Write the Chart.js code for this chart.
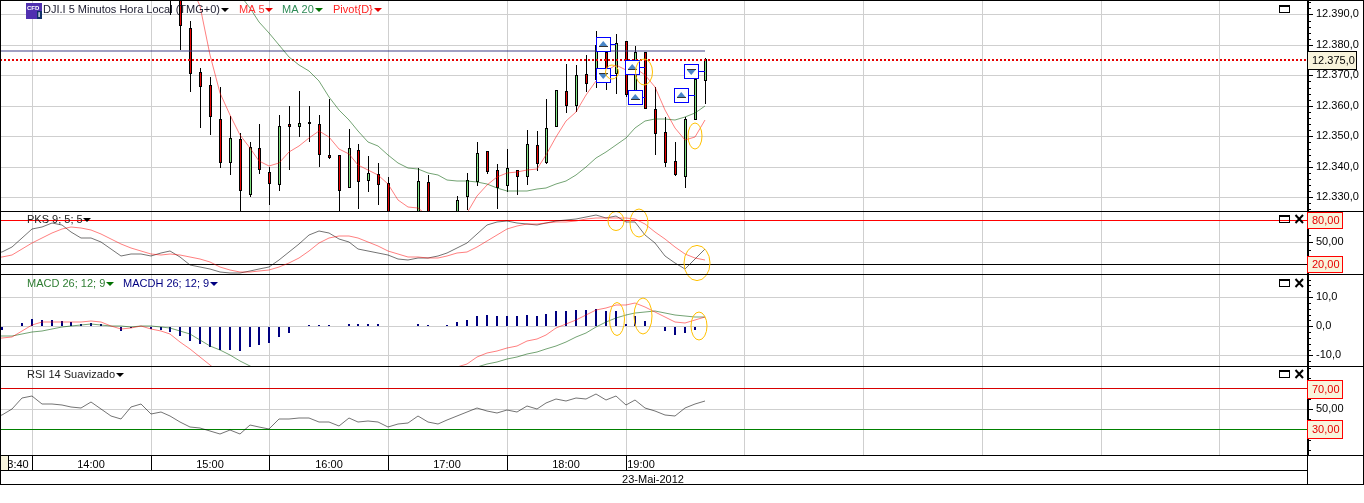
<!DOCTYPE html>
<html>
<head>
<meta charset="utf-8">
<title>DJI.I 5 Minutos</title>
<style>
  html, body { margin: 0; padding: 0; background: #fff; overflow: hidden; }
  canvas { display: block; }
</style>
<script src="https://cdn.jsdelivr.net/npm/chart.js@4/dist/chart.umd.min.js"></script>
</head>
<body>
<canvas id="chart" width="1364" height="503"></canvas>
<script>
// slot = number of 5 minute bars since 14:00
const candleFirstSlot = 14;
const candleOpen = [12398,12395,12385.5,12371,12366.8,12355.6,12341.2,12349.1,12330.9,12346.1,12338.3,12333.9,12354,12353.2,12353.9,12354,12343.9,12343.8,12333.2,12345.5,12335.2,12337.6,12334.6,12321,12316,12318,12335,12318,12314,12320,12330,12334.9,12345.1,12338.8,12333.6,12338.8,12336.8,12347.1,12341.2,12353,12364.8,12359.8,12370.4,12368.5,12377.8,12370.5,12381.3,12363,12377.6,12358.9,12351.4,12341.9,12336.8,12355.2,12368];
const candleHigh = [12405,12400,12387.9,12372.3,12369.4,12366.1,12356.8,12351,12348.3,12354.1,12339.8,12357.1,12360,12364.9,12360,12357.1,12362.3,12343.8,12352.5,12347.5,12343.6,12341.2,12336.6,12323,12322,12339.6,12337.4,12321,12324,12330.3,12337.9,12348.1,12345.1,12340.9,12345.9,12339,12352.1,12351.8,12362.3,12365.1,12373.8,12373.4,12376.7,12384.6,12382,12383.6,12381.4,12379.7,12377.7,12366.3,12356.3,12348.1,12356.3,12368.9,12375.6];
const candleLow = [12389.8,12378.4,12364.4,12352.6,12350.3,12339.6,12337.2,12322,12330,12337.8,12327.5,12331.9,12338.8,12349.9,12348.1,12340.1,12342.6,12322,12333.2,12326.2,12331.6,12327.5,12318,12314,12312,12316,12316,12312,12312,12318,12325.9,12333.6,12337.8,12326.3,12331.7,12330.8,12333.9,12338.5,12341,12353,12357.8,12358.1,12364.4,12366,12365.2,12363.8,12363,12362,12359.1,12344,12340.1,12337,12333.2,12355.2,12360.7];
const candleClose = [12396,12386.3,12370.4,12366.3,12356.2,12341.4,12349.4,12331.9,12346.4,12338.8,12334.2,12353.3,12352.9,12354.3,12354.8,12344,12343,12332.2,12346.1,12334.9,12337.9,12333.9,12320,12316,12319,12335.2,12318,12314,12320,12329.1,12335.6,12344.5,12338.4,12333,12339.6,12336.5,12347.4,12340.8,12352.7,12365.1,12360.1,12370,12367.3,12380,12369.1,12380.5,12363.4,12377.8,12359.1,12350.6,12341.1,12337.2,12355.6,12368.9,12375.3];

const ma5FirstSlot = 15;
const ma5 = [12405,12400,12392.6,12376.7,12364.2,12357,12350.5,12346.3,12342,12340.2,12341.2,12345,12346.7,12349.6,12351.6,12349.9,12345.8,12344.2,12340.7,12338.8,12337.4,12334.4,12329.2,12326.8,12326.4,12324,12322,12321,12322,12325,12330.3,12334,12336.8,12338,12338.3,12338.8,12339.4,12343.9,12349.9,12354.9,12358.1,12363.6,12368,12371.3,12373.4,12371.8,12372.3,12370.2,12366.3,12358.7,12352.7,12348.8,12349.9,12355.4];
const ma20FirstSlot = 21;
const ma20 = [12396.4,12392,12387.6,12383.8,12380,12376,12373.4,12371.3,12368,12362.8,12358.5,12355.4,12351.6,12348.3,12346.7,12344,12341.2,12339.6,12339.3,12337.9,12337.2,12335.7,12335.2,12335.4,12335,12334.3,12333,12332.2,12331.9,12332.2,12332.6,12333,12334.3,12335.4,12337.2,12340.1,12342.8,12345,12347.2,12349.4,12352.7,12354.9,12355.7,12355.7,12355.4,12356.3,12357.6,12359.8];

const pivotSlots = [-4, 68];
const pivotValues = [12378, 12378];
const lastPriceSlots = [-4, 130];
const lastPriceValues = [12375, 12375];

// indicators all start at slot -4, just left of the visible edge
const indicatorFirstSlot = -4;
const pksK = [35,37.3,44.1,55.5,67.7,70.5,75.9,73.6,64.5,55.5,56.4,50,40.9,31.8,34.1,34.1,31.8,35,38.6,30.5,18.6,16.8,13.6,9.5,8.6,8.6,11.4,14.1,16.8,25.9,37.3,47.7,60,65.9,62.3,54.1,50,40.9,38.2,35,32.7,26.8,25.5,29.1,29.1,31.4,35,42.7,48.6,61.4,73.6,78.2,79.5,75.9,74.5,73.6,76.8,79.5,80.5,81.4,85,87.3,82.7,85.9,77.3,77.3,60,48.6,31.4,21.4,13.6,27.3,40.9];
const pksD = [29,30,32.7,40.5,48.6,55.9,62.3,68.2,71.4,70,66.8,61.4,54.5,47.3,42.7,38.2,34.5,32.7,33.6,33.2,30.5,27.7,23.6,16.8,12.3,10,9.5,10.5,12.3,15.9,21.4,29.1,38.6,48.6,55.5,58.2,58.6,55.5,50.5,45,38.6,34.1,30.5,29.5,29.1,28.2,31.8,35,37.3,43.2,51.8,60,68.2,72.7,75,75,76.8,77.3,77.7,79.1,81.8,82.7,82.7,83.6,83.2,81.4,75,64.5,54.5,44.1,33.6,28.2,26.4];
const macdLine = [-3.3,-3.2,-3.2,-2.6,-2.1,-1.5,-1,-0.3,0.1,0.5,0.7,0.6,0.2,0,-0.1,0,0,-0.1,-0.7,-1.5,-2.6,-4.7,-6.6,-8.2,-9.9,-11.8,-13.6,-15.2,-16.5,-17.6,-18.3,-18.8,-19.1,-19.2,-19.2,-19.1,-19,-18.9,-18.8,-18.7,-18.5,-18.2,-17.8,-17.2,-16.6,-16,-15.4,-14.8,-14.2,-13.8,-13,-12.1,-11.3,-10.5,-9.6,-8.7,-7.7,-6.6,-5.3,-3.8,-2.4,-0.3,1.4,2.7,3.8,4.5,5,5.1,4.6,4,3.4,3.2,3.3];
const macdSignal = [-4.3,-4.1,-3.5,-1.5,0.5,1.3,1.6,1.6,1.4,1.3,1.8,1.6,0.1,-0.9,-0.7,0,-0.9,-1.5,-2.6,-5.3,-7.9,-10.4,-13.3,-16,-18.5,-20.5,-22,-23,-23.5,-23,-22.5,-22,-21,-20.5,-20,-20,-20.5,-21,-21,-20.5,-20,-19,-18,-17,-16,-15.5,-14.8,-13.8,-12.8,-10.4,-9.3,-8.6,-7.4,-6.9,-5.1,-4.5,-3,-0.6,0.7,2.2,3.7,5.6,6.2,7.3,7.3,8,6.7,5,3.1,1.3,1.1,2.2,3.3];
const macdHist = [null,-1.2,-0.3,1.1,2.5,2.2,2.2,1.8,1.5,0.8,1.1,0.8,-0.3,-1.5,-0.6,0.1,-1.1,-1.3,-1.8,-3.2,-5,-6.1,-7,-8,-8,-8.5,-7.1,-6.4,-5.7,-3.7,-2.3,-0.3,0.5,0.5,0.5,0.2,0.8,0.8,0.8,0.8,null,null,null,0.8,0.5,0.1,0.5,1.5,2.2,3.5,3.9,3.5,3.5,3.5,3.9,3.5,4.2,5.3,5.3,5.6,5.6,5.9,5.3,5.3,0.8,3.5,1.8,0.1,-1.5,-2.9,-2.2,-1.3,-0.2];
const rsi = [42,43.8,50.3,60.7,62.7,54.6,54.9,53.9,51.6,51,56.8,50,42.8,39.9,52,54.6,45.1,47.1,42.8,37.3,32.8,31.5,28.9,25.3,29.8,25.9,34.1,32.4,30.8,40.6,40.6,41.2,41.2,37.6,37.3,33.4,41.2,37.6,38.6,37.6,32.8,35.4,36,42.8,37.3,35.7,39.6,42.8,46.7,51,48.4,45.8,49.3,47.1,52.9,50,55.5,60.1,57.5,61.1,59.4,64.3,58.8,62.7,53.6,59.1,50.7,47.7,44.5,42.8,50.7,55.2,57.5];

const gridSlots = [0,12,24,36,48,60,72,84,96,108,120];
const separatorSlots = [-2.42,0,12,24,36,48,60];
const timeLabels = ['3:40','14:00','15:00','16:00','17:00','18:00','19:00'];
const timeLabelSlots = [-1.45,6,18,30,42,54,61.6];
const dateLabel = '23-Mai-2012';
const dateLabelSlot = 62.8;

const priceLabels = [12330,12340,12350,12360,12370,12380,12390];
const pksLabels = [50];
const macdLabels = [-10,0,10];
const rsiLabels = [50];

// trade markers: box position, the bar it points at, price, arrow direction
const tradeBoxSlots = [57.68,57.68,60.63,60.9,65.63,66.64];
const tradeBarSlots = [59,59,62,62,67,68];
const tradePrices = [12380.2,12370,12372.7,12363,12363.6,12371.4];
const tradeSides = ['up','down','up','up','up','down'];

const ellipses = [
  { pane: 'yPrice', slot: 58.67, value: 12371.2, rx: 6.5, ry: 7 },
  { pane: 'yPrice', slot: 61.87, value: 12371.2, rx: 8.5, ry: 13 },
  { pane: 'yPrice', slot: 67.05, value: 12350.2, rx: 7, ry: 13 },
  { pane: 'yPks', slot: 58.99, value: 79.7, rx: 8, ry: 9.5 },
  { pane: 'yPks', slot: 61.4, value: 76.3, rx: 9, ry: 14 },
  { pane: 'yPks', slot: 67.25, value: 22.2, rx: 13, ry: 17.6 },
  { pane: 'yMacd', slot: 59.1, value: 2.5, rx: 7.5, ry: 16.5 },
  { pane: 'yMacd', slot: 61.74, value: 3.4, rx: 9, ry: 18 },
  { pane: 'yMacd', slot: 67.45, value: 0, rx: 8, ry: 14 }
];

const FONT = '"Liberation Sans", Arial, sans-serif';
const GRID = '#cfcfcf';
const CREAM = '#f8f4dc';

function points(values, firstSlot) {
  return values.map((v, i) => ({ x: firstSlot + i, y: v }));
}
function pairs(slots, values) {
  return slots.map((s, i) => ({ x: s, y: values[i] }));
}

const wickData = candleHigh.map((h, i) => ({ x: candleFirstSlot + i, y: [candleLow[i], h] }));
const bodyData = candleOpen.map((o, i) => ({ x: candleFirstSlot + i, y: [o, candleClose[i]] }));
const bodyColors = candleOpen.map((o, i) => candleClose[i] >= o ? '#7fe07f' : '#e60000');

function lineSet(data, axis, color, order) {
  return { type: 'line', data: data, yAxisID: axis, borderColor: color, borderWidth: 1,
    pointRadius: 0, tension: 0, order: order };
}

const datasets = [
  { type: 'bar', data: wickData, yAxisID: 'yPrice', backgroundColor: '#000', barThickness: 1,
    grouped: false, inflateAmount: 0, order: 6 },
  { type: 'bar', data: bodyData, yAxisID: 'yPrice', backgroundColor: bodyColors, borderColor: '#000',
    borderWidth: 1, borderSkipped: false, barThickness: 3, grouped: false, inflateAmount: 0, order: 5 },
  lineSet(points(ma5, ma5FirstSlot), 'yPrice', 'rgba(255,0,0,.5)', 2),
  lineSet(points(ma20, ma20FirstSlot), 'yPrice', 'rgba(0,90,0,.55)', 2),
  Object.assign(lineSet(pairs(pivotSlots, pivotValues), 'yPrice', 'rgba(60,60,130,.65)', 3), { borderWidth: 1.5 }),
  Object.assign(lineSet(pairs(lastPriceSlots, lastPriceValues), 'yPrice', '#e60000', 3), { borderWidth: 2, borderDash: [2, 2] }),
  lineSet(points(pksK, indicatorFirstSlot), 'yPks', 'rgba(0,0,0,.55)', 2),
  lineSet(points(pksD, indicatorFirstSlot), 'yPks', 'rgba(255,0,0,.5)', 1),
  { type: 'bar', data: points(macdHist, indicatorFirstSlot), yAxisID: 'yMacd', backgroundColor: '#000080',
    barThickness: 2, grouped: false, inflateAmount: 0, order: 4 },
  lineSet(points(macdLine, indicatorFirstSlot), 'yMacd', 'rgba(0,90,0,.55)', 2),
  lineSet(points(macdSignal, indicatorFirstSlot), 'yMacd', 'rgba(255,0,0,.5)', 1),
  lineSet(points(rsi, indicatorFirstSlot), 'yRsi', 'rgba(0,0,0,.55)', 1)
];

// grid options get asked once without a tick, e.g. for the axis border
function tickValue(ctx) {
  return ctx.tick ? ctx.tick.value : undefined;
}

// the plot has to run to the canvas edge, so drop the margins kept for edge labels
function noMargins(scale) {
  scale.paddingLeft = 0;
  scale.paddingRight = 0;
  scale.paddingTop = 0;
  scale.paddingBottom = 0;
}

// one pane of the stacked right hand axis
function paneAxis(weight, min, max, step, labels, lineColors, format) {
  const labelled = labels.concat(Object.keys(lineColors).map(Number));
  return {
    type: 'linear', position: 'right', stack: 'panes', stackWeight: weight,
    min: min, max: max, alignToPixels: true,
    labelled: labelled,
    border: { display: true, color: '#000', width: 1 },
    afterBuildTicks: scale => {
      const ticks = [];
      const first = Math.ceil(min / step) * step;
      for (let v = first; v <= max; v += step) ticks.push({ value: v });
      scale.ticks = ticks;
    },
    afterFit: scale => { scale.width = 56; noMargins(scale); },
    grid: {
      drawTicks: false, // comb is drawn in the overlay, long and short marks
      color: ctx => {
        const v = tickValue(ctx);
        if (lineColors[v]) return lineColors[v];
        return labelled.includes(v) ? GRID : 'transparent';
      }
    },
    ticks: {
      autoSkip: false, padding: 8, color: '#000', font: { family: FONT, size: 11 },
      callback: v => labels.includes(v) ? format(v) : ''
    }
  };
}

function fmtPrice(v) {
  return String(Math.floor(v / 1000)) + '.' + String(v % 1000).padStart(3, '0') + ',0';
}

const xTickText = new Map();
timeLabelSlots.forEach((s, i) => xTickText.set(s, timeLabels[i]));
xTickText.set(dateLabelSlot, ['', dateLabel]);

function rectBadge(ctx, y, w, h, text, edge, ink) {
  ctx.fillStyle = CREAM;
  ctx.fillRect(1307.5, y + 0.5, w, h);
  ctx.strokeStyle = edge;
  ctx.lineWidth = 1;
  ctx.strokeRect(1307.5, y + 0.5, w, h);
  ctx.fillStyle = ink;
  ctx.fillText(text, 1312, y + h / 2 + 1);
}

function arrowMark(ctx, x, y, color) {
  ctx.fillStyle = color;
  ctx.beginPath();
  ctx.moveTo(x - 4, y - 2);
  ctx.lineTo(x + 4, y - 2);
  ctx.lineTo(x, y + 2);
  ctx.closePath();
  ctx.fill();
}

function paneButtons(ctx, y, withClose) {
  ctx.strokeStyle = '#000';
  ctx.lineWidth = 1;
  ctx.strokeRect(1279.5, y + 0.5, 10, 7);
  ctx.fillStyle = '#000';
  ctx.fillRect(1279, y, 11, 2);
  if (withClose) {
    ctx.lineWidth = 2;
    ctx.beginPath();
    ctx.moveTo(1295.5, y);
    ctx.lineTo(1303, y + 8);
    ctx.moveTo(1303, y);
    ctx.lineTo(1295.5, y + 8);
    ctx.stroke();
  }
}

const overlay = {
  id: 'overlay',
  // keep bars crisp like the platform draws them
  beforeDatasetsDraw(chart) {
    chart.data.datasets.forEach((ds, i) => {
      if (ds.type !== 'bar') return;
      const odd = ds.barThickness % 2 === 1;
      chart.getDatasetMeta(i).data.forEach(el => {
        el.x = odd ? Math.floor(el.x) + 0.5 : Math.round(el.x);
        el.y = Math.round(el.y);
        el.base = Math.round(el.base);
      });
    });
  },
  afterDraw(chart) {
    const ctx = chart.ctx;
    const x = chart.scales.x;
    const yP = chart.scales.yPrice;
    ctx.save();

    // trade boxes
    tradeBoxSlots.forEach((slot, i) => {
      const cx = Math.round(x.getPixelForValue(slot));
      const cy = Math.round(yP.getPixelForValue(tradePrices[i]));
      const barX = Math.round(x.getPixelForValue(tradeBarSlots[i]));
      ctx.strokeStyle = '#0000ff';
      ctx.lineWidth = 1;
      ctx.beginPath();
      ctx.moveTo(cx + 7, cy + 0.5);
      ctx.lineTo(barX, cy + 0.5);
      ctx.stroke();
      ctx.fillStyle = '#fff';
      ctx.fillRect(cx - 7, cy - 7, 14, 14);
      ctx.strokeRect(cx - 6.5, cy - 6.5, 14, 14);
      ctx.fillStyle = '#4a86c8';
      ctx.beginPath();
      if (tradeSides[i] === 'up') {
        ctx.moveTo(cx - 4, cy + 2);
        ctx.lineTo(cx + 4.5, cy + 2);
        ctx.lineTo(cx + 0.25, cy - 3);
      } else {
        ctx.moveTo(cx - 4, cy - 1);
        ctx.lineTo(cx + 4.5, cy - 1);
        ctx.lineTo(cx + 0.25, cy + 4);
      }
      ctx.closePath();
      ctx.fill();
      ctx.fillStyle = '#333';
      ctx.fillRect(cx - 4, tradeSides[i] === 'up' ? cy + 2 : cy - 2, 9, 1);
    });

    // hand drawn ellipses
    ctx.strokeStyle = '#ffc000';
    ctx.lineWidth = 1;
    ellipses.forEach(e => {
      ctx.beginPath();
      ctx.ellipse(x.getPixelForValue(e.slot), chart.scales[e.pane].getPixelForValue(e.value),
        e.rx, e.ry, 0, 0, Math.PI * 2);
      ctx.stroke();
    });

    // tick comb on the price side
    ctx.strokeStyle = '#000';
    ctx.lineWidth = 1;
    ctx.beginPath();
    ['yPrice', 'yPks', 'yMacd', 'yRsi'].forEach(id => {
      const scale = chart.scales[id];
      scale.ticks.forEach(t => {
        const py = Math.round(scale.getPixelForValue(t.value)) + 0.5;
        ctx.moveTo(1308, py);
        ctx.lineTo(scale.options.labelled.includes(t.value) ? 1313 : 1311, py);
      });
    });
    ctx.stroke();

    // clipped label cell at the far left of the time row
    ctx.fillStyle = CREAM;
    ctx.fillRect(1, 456, 7, 14);

    // frame
    ctx.strokeStyle = '#000';
    ctx.lineWidth = 1;
    ctx.beginPath();
    [0, 211, 274, 366, 455, 484].forEach(y => {
      ctx.moveTo(0, y + 0.5);
      ctx.lineTo(1364, y + 0.5);
    });
    ctx.moveTo(0, 470.5);
    ctx.lineTo(1308, 470.5);
    ctx.moveTo(0.5, 0);
    ctx.lineTo(0.5, 484);
    ctx.moveTo(1363.5, 0);
    ctx.lineTo(1363.5, 484);
    ctx.moveTo(1307.5, 0);
    ctx.lineTo(1307.5, 484);
    ctx.stroke();

    // price and level badges
    ctx.font = '11px ' + FONT;
    ctx.textAlign = 'left';
    ctx.textBaseline = 'middle';
    rectBadge(ctx, 51, 49, 18, '12.375,0', '#000', '#000');
    rectBadge(ctx, 212, 35, 16, '80,00', '#ff0000', '#e60000');
    rectBadge(ctx, 256, 35, 16, '20,00', '#ff0000', '#e60000');
    rectBadge(ctx, 380, 35, 18, '70,00', '#ff0000', '#e60000');
    rectBadge(ctx, 420, 35, 18, '30,00', '#ff0000', '#e60000');

    // pane captions
    ctx.fillStyle = '#1a1a2e';
    ctx.fillText('DJI.I 5 Minutos Hora Local (TMG+0)', 43, 10);
    arrowMark(ctx, 225, 10, '#000');
    ctx.fillStyle = '#ff3030';
    ctx.fillText('MA 5', 239, 10);
    arrowMark(ctx, 269, 10, '#e60000');
    ctx.fillStyle = '#2e8b57';
    ctx.fillText('MA 20', 282, 10);
    arrowMark(ctx, 319, 10, '#007000');
    ctx.fillStyle = '#ff2020';
    ctx.fillText('Pivot{D}', 333, 10);
    arrowMark(ctx, 378, 10, '#e60000');

    ctx.fillStyle = '#222';
    ctx.fillText('PKS 9; 5; 5', 27, 220);
    arrowMark(ctx, 87, 220, '#000');
    ctx.fillStyle = '#2e7d32';
    ctx.fillText('MACD 26; 12; 9', 27, 284);
    arrowMark(ctx, 110, 284, '#007000');
    ctx.fillStyle = '#000080';
    ctx.fillText('MACDH 26; 12; 9', 123, 284);
    arrowMark(ctx, 214, 284, '#000080');
    ctx.fillStyle = '#222';
    ctx.fillText('RSI 14 Suavizado', 27, 375);
    arrowMark(ctx, 120, 375, '#000');

    paneButtons(ctx, 5, false);
    paneButtons(ctx, 215, true);
    paneButtons(ctx, 279, true);
    paneButtons(ctx, 370, true);

    // instrument icon
    ctx.fillStyle = '#5030b0';
    ctx.fillRect(26, 3, 16, 16);
    ctx.fillStyle = '#fff';
    ctx.font = 'bold 6px ' + FONT;
    ctx.fillText('CFD', 27, 8);
    ctx.fillStyle = '#10306a';
    ctx.fillRect(37, 11, 5, 8);
    ctx.fillStyle = '#fff';
    ctx.font = 'bold 8px ' + FONT;
    ctx.fillText('i', 38, 15);

    ctx.restore();
  }
};

new Chart(document.getElementById('chart'), {
  data: { datasets: datasets },
  plugins: [overlay],
  options: {
    responsive: false,
    animation: false,
    events: [],
    layout: { padding: { top: 1, left: 0, right: 0, bottom: 19 } },
    plugins: { legend: { display: false }, tooltip: { enabled: false } },
    scales: {
      x: {
        type: 'linear', min: -3.22, max: 128.96, alignToPixels: true,
        offset: false, // bar datasets turn this on by default
        border: { display: false },
        afterBuildTicks: scale => {
          const all = new Set(gridSlots.concat(separatorSlots, timeLabelSlots, [dateLabelSlot]));
          scale.ticks = [...all].sort((a, b) => a - b).map(v => ({ value: v }));
        },
        afterFit: scale => { scale.height = 29; noMargins(scale); },
        grid: {
          offset: false,
          color: ctx => gridSlots.includes(tickValue(ctx)) ? GRID : 'transparent',
          tickColor: ctx => separatorSlots.includes(tickValue(ctx)) ? '#000' : 'transparent',
          tickLength: 15
        },
        ticks: {
          autoSkip: false, maxRotation: 0, padding: -13, color: '#000',
          font: { family: FONT, size: 11, lineHeight: '15px' },
          callback: v => xTickText.get(v) || ''
        }
      },
      yPrice: paneAxis(210, 12325.5, 12394.4, 2, priceLabels, {}, fmtPrice),
      yPks: paneAxis(63, 6.8, 92.7, 10, pksLabels, { 80: '#ff0000', 20: '#000' }, v => v + ',00'),
      yMacd: paneAxis(92, -13.6, 17.9, 2, macdLabels, {}, v => v + ',0'),
      yRsi: paneAxis(89, 5.1, 91.9, 10, rsiLabels, { 70: '#d80000', 30: '#008000' }, v => v + ',00')
    }
  }
});
</script>
</body>
</html>
